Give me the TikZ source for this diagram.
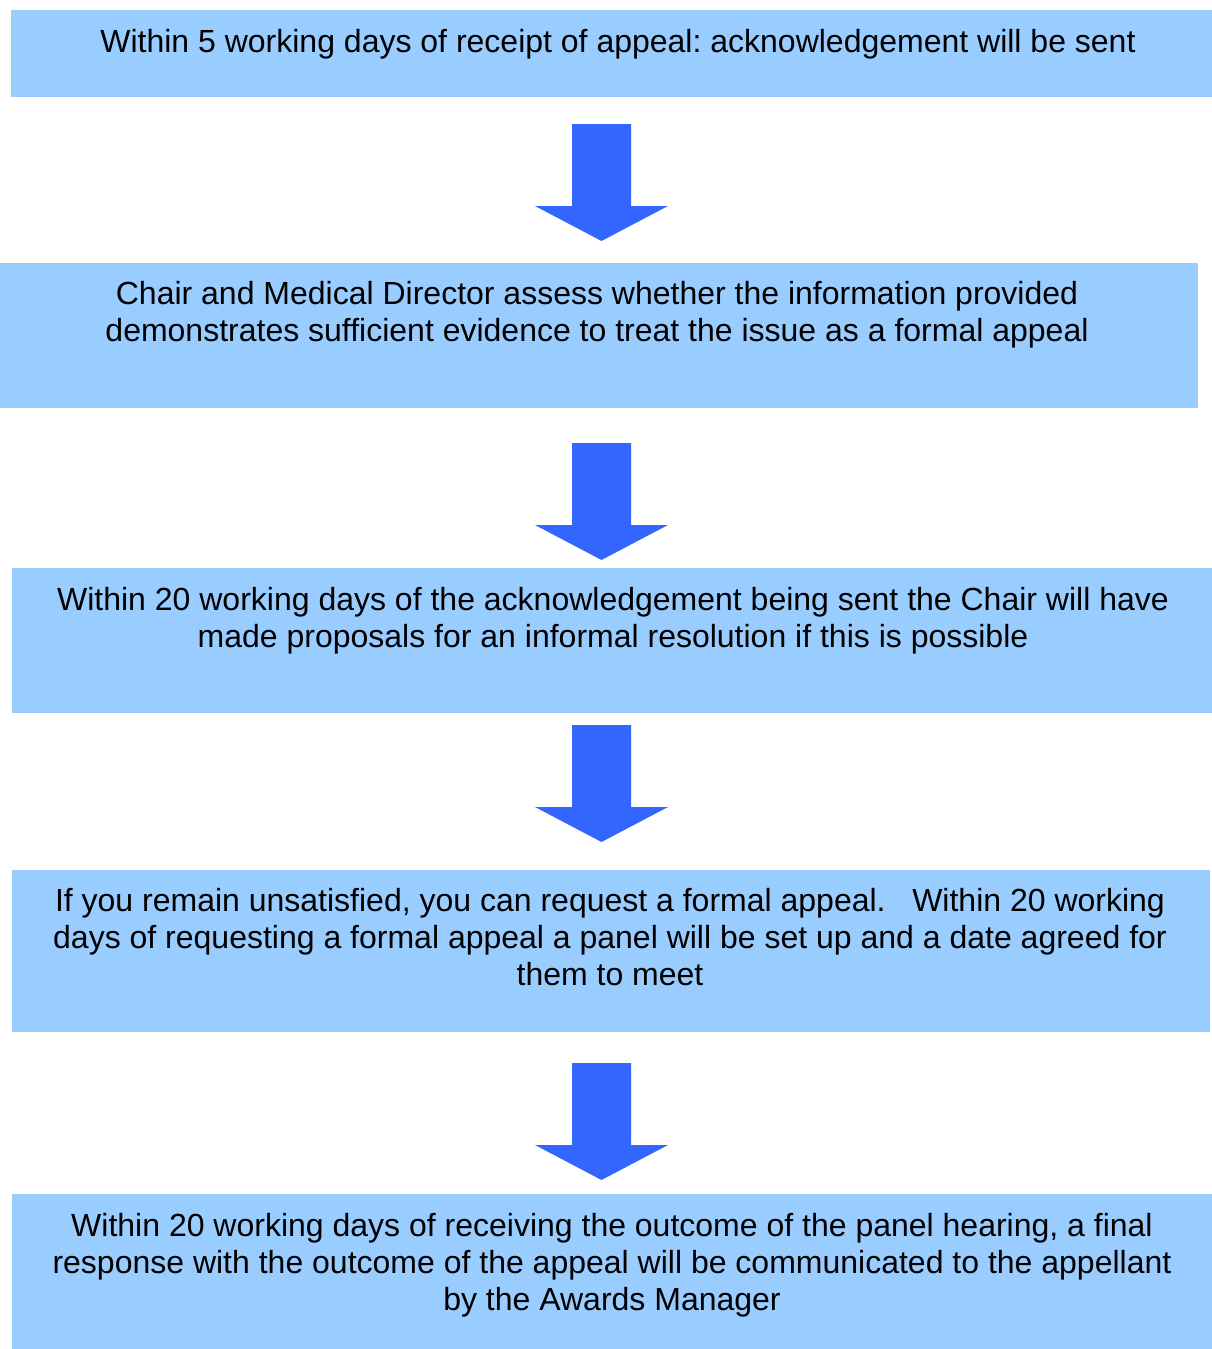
\documentclass[tikz,border=0pt]{standalone}
\usepackage{fontspec}
\setmainfont{Liberation Sans}
\frenchspacing
\definecolor{boxblue}{HTML}{99CCFF}
\definecolor{arrowblue}{HTML}{3366FF}
\newcommand\myarrow[1]{%
  \fill[arrowblue] (572,#1) -- (631,#1) -- (631,{#1+82}) -- (668,{#1+82})
    -- (601.5,{#1+117}) -- (535,{#1+82}) -- (572,{#1+82}) -- cycle;}
\begin{document}
\begin{tikzpicture}[x=1pt,y=-1pt,
  stepbox/.style={fill=boxblue, draw=none, inner sep=0, anchor=north west},
  steptext/.style={align=center, inner sep=0, anchor=base,
    font=\fontsize{32}{36.6}\selectfont}]
\useasboundingbox (0,0) rectangle (1212,1349);
\node[stepbox, minimum width=1201pt, minimum height=87pt] (b1) at (11,10) {};
\node[stepbox, minimum width=1198pt, minimum height=145pt] (b2) at (0,263) {};
\node[stepbox, minimum width=1200pt, minimum height=145pt] (b3) at (12,568) {};
\node[stepbox, minimum width=1198pt, minimum height=162pt] (b4) at (12,870) {};
\node[stepbox, minimum width=1200pt, minimum height=155pt] (b5) at (12,1194) {};
\node[steptext] (t1) at (618,52) {Within 5 working days of receipt of appeal: acknowledgement will be sent};
\node[steptext] (t2) at (597,341) {Chair and Medical Director assess whether the information provided\\demonstrates sufficient evidence to treat the issue as a formal appeal};
\node[steptext] (t3) at (613,647) {Within 20 working days of the acknowledgement being sent the Chair will have\\made proposals for an informal resolution if this is possible};
\node[steptext] (t4) at (610,985) {If you remain unsatisfied, you can request a formal appeal.\ \ \ Within 20 working\\days of requesting a formal appeal a panel will be set up and a date agreed for\\them to meet};
\node[steptext] (t5) at (612,1310) {Within 20 working days of receiving the outcome of the panel hearing, a final\\response with the outcome of the appeal will be communicated to the appellant\\by the Awards Manager};
\myarrow{124}
\myarrow{443}
\myarrow{725}
\myarrow{1063}
\end{tikzpicture}
\end{document}
